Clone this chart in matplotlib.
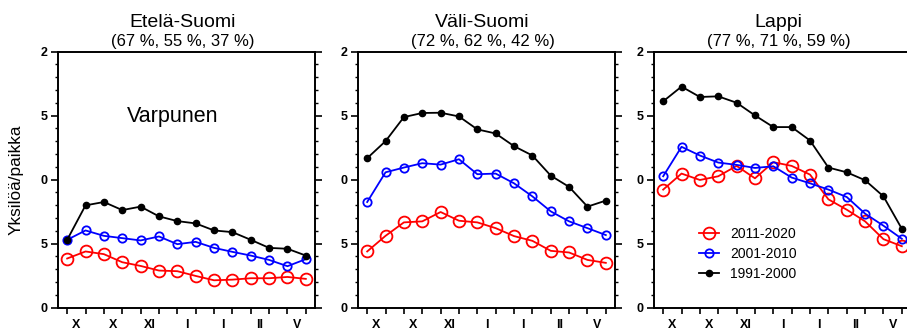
import matplotlib
matplotlib.use("Agg")
import matplotlib.pyplot as plt
from matplotlib.ticker import MultipleLocator, FixedLocator

plt.rcParams['font.family'] = ['Liberation Sans', 'DejaVu Sans']

regions = ["Etelä-Suomi", "Väli-Suomi", "Lappi"]
subtitles = ["(67 %, 55 %, 37 %)", "(72 %, 62 %, 42 %)", "(77 %, 71 %, 59 %)"]
series_labels = ["2011-2020", "2001-2010", "1991-2000"]
month_labels = ["X", "X", "XI", "I", "I", "II", "V"]
ytick_labels = ["0", "5", "0", "5", "2"]

# values per region: [2011-2020, 2001-2010, 1991-2000]
south = [
    [3.84, 4.39, 4.18, 3.55, 3.26, 2.90, 2.85, 2.48, 2.14, 2.19, 2.30, 2.30, 2.40, 2.25],
    [5.30, 6.03, 5.61, 5.43, 5.25, 5.56, 4.96, 5.14, 4.67, 4.36, 4.07, 3.73, 3.24, 3.79],
    [5.30, 7.99, 8.25, 7.62, 7.89, 7.13, 6.76, 6.58, 6.03, 5.90, 5.30, 4.67, 4.60, 4.07],
]
middle = [
    [4.39, 5.61, 6.66, 6.74, 7.47, 6.79, 6.66, 6.21, 5.59, 5.22, 4.44, 4.31, 3.73, 3.50],
    [8.25, 10.57, 10.94, 11.28, 11.17, 11.59, 10.42, 10.47, 9.71, 8.69, 7.52, 6.74, 6.21, 5.67],
    [11.67, 13.00, 14.88, 15.20, 15.22, 14.93, 13.92, 13.60, 12.61, 11.88, 10.31, 9.43, 7.89, 8.36],
]
lapland = [
    [9.22, 10.47, 9.97, 10.26, 11.07, 10.10, 11.36, 11.07, 10.39, 8.46, 7.65, 6.74, 5.35, 4.80],
    [10.26, 12.56, 11.88, 11.33, 11.15, 10.91, 11.04, 10.16, 9.71, 9.22, 8.64, 7.34, 6.40, 5.38],
    [16.11, 17.26, 16.45, 16.50, 16.00, 15.01, 14.10, 14.10, 13.05, 10.94, 10.57, 9.95, 8.69, 6.16],
]
data = [south, middle, lapland]

styles = [
    dict(color='#ff0000', marker='o', mfc='none', mec='#ff0000', ms=8.5, mew=1.3, lw=1.3),
    dict(color='#0000ff', marker='o', mfc='none', mec='#0000ff', ms=6, mew=1.3, lw=1.3),
    dict(color='black', marker='o', mfc='black', mec='black', ms=4.5, mew=1.0, lw=1.3),
]

W, H = 907, 333
fig = plt.figure(figsize=(W / 100, H / 100), dpi=100)

lefts = [58, 358, 654]
ax_w = 257
bottom_px, top_px = 307.7, 51.5

x = list(range(14))
axes = []
for i, lp in enumerate(lefts):
    ax = fig.add_axes([lp / W, (H - bottom_px) / H, ax_w / W, (bottom_px - top_px) / H])
    axes.append(ax)
    for vals, st, lab in zip(data[i], styles, series_labels):
        ax.plot(x, vals, label=lab, clip_on=False, **st)
    ax.set_xlim(-0.5, 13.5)
    ax.set_ylim(0, 20)
    for s in ax.spines.values():
        s.set_linewidth(1.4)
    ax.yaxis.set_major_locator(FixedLocator([0, 5, 10, 15, 20]))
    ax.set_yticklabels(ytick_labels)
    ax.yaxis.set_minor_locator(MultipleLocator(1))
    ax.tick_params(axis='y', which='major', left=True, right=True, direction='out',
                   length=5, width=1.2, pad=2.5, labelsize=9)
    ax.tick_params(axis='y', which='minor', left=True, right=True, direction='out',
                   length=2.5, width=1.0)
    ax.xaxis.set_major_locator(FixedLocator(x))
    ax.xaxis.set_minor_locator(FixedLocator([0.5 + 2 * k for k in range(7)]))
    ax.tick_params(axis='x', which='major', direction='out', length=4, width=1.2,
                   labelbottom=False)
    ax.tick_params(axis='x', which='minor', length=0, pad=8, labelsize=9)
    ax.set_xticklabels(month_labels, minor=True)
    for lbl in ax.get_yticklabels() + ax.get_xticklabels(minor=True):
        lbl.set_fontweight('bold')

    cx = (lp + ax_w / 2 - 4) / W
    fig.text(cx, 1 - 27 / H, regions[i], ha='center', va='baseline', fontsize=14)
    fig.text(cx, 1 - 46 / H, subtitles[i], ha='center', va='baseline', fontsize=12)

fig.text(173 / W, 1 - 121.7 / H, "Varpunen", ha='center', va='baseline', fontsize=15.5)
fig.text(16 / W, 1 - 180 / H, "Yksilöä/paikka", rotation=90, ha='center', va='center',
         fontsize=12.4)

axes[2].legend(loc='center left', bbox_to_anchor=(0.175, 0.21), frameon=False,
               fontsize=10, handlelength=1.45, handletextpad=0.8, labelspacing=0.42,
               borderpad=0, borderaxespad=0)

fig.savefig("out.png", dpi=100)
